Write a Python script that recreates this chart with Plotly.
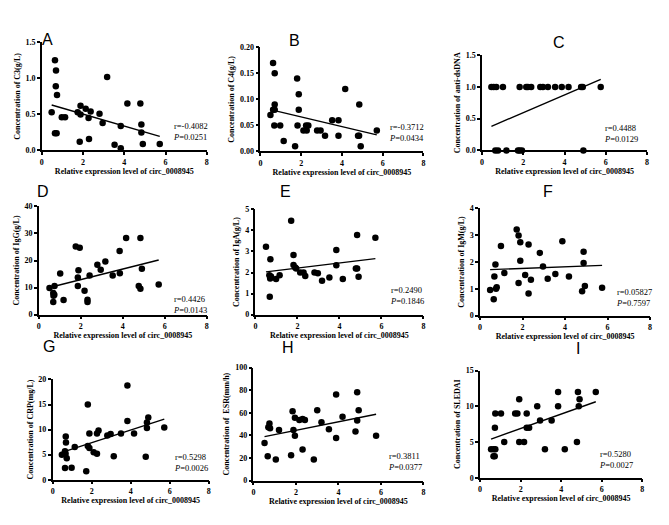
import plotly.graph_objects as go

# circ_0008945 expression (x) vs. clinical parameter (y), one pair per panel
x_a = [0.48, 0.64, 0.69, 0.68, 0.74, 0.64, 0.72, 0.97, 1.13, 1.74, 1.88, 1.88, 2.13, 2.37, 2.27,
       1.84, 2.29, 2.80, 2.95, 3.17, 3.83, 3.53, 3.83, 4.15, 4.78, 4.83, 4.83, 4.90, 5.72]
y_a = [0.53, 1.25, 1.11, 0.89, 0.77, 0.24, 0.24, 0.46, 0.46, 0.53, 0.62, 0.50, 0.58, 0.54, 0.45,
       0.12, 0.16, 0.51, 0.38, 1.02, 0.34, 0.08, 0.03, 0.65, 0.65, 0.36, 0.25, 0.09, 0.09]

x_b = [0.49, 0.62, 0.70, 0.62, 0.70, 0.70, 0.68, 0.97, 1.14, 1.70, 1.80, 1.88, 1.88, 1.82, 2.11,
       2.27, 2.24, 2.35, 2.78, 2.95, 3.17, 3.52, 3.83, 3.83, 4.16, 4.79, 4.85, 4.84, 4.92, 5.71]
y_b = [0.070, 0.170, 0.150, 0.080, 0.080, 0.090, 0.050, 0.050, 0.020, 0.010, 0.140, 0.110, 0.080,
       0.050, 0.040, 0.040, 0.050, 0.050, 0.040, 0.040, 0.030, 0.060, 0.060, 0.030, 0.120, 0.030,
       0.090, 0.030, 0.010, 0.040]

x_c = [0.45, 0.56, 0.69, 1.01, 1.82, 2.14, 2.22, 2.38, 2.82, 2.95, 3.19, 3.54, 3.86, 4.19, 4.80,
       4.88, 5.75, 0.64, 0.77, 1.18, 1.74, 1.82, 1.93, 4.91]
y_c = [1, 1, 1, 1, 1, 1, 1, 1, 1, 1, 1, 1, 1, 1, 1, 1, 1, 0, 0, 0, 0, 0, 0, 0]

x_d = [0.51, 0.75, 0.69, 0.74, 0.70, 0.69, 1.02, 1.18, 1.76, 1.95, 1.89, 1.86, 1.86, 2.18, 2.32,
       2.32, 2.42, 2.79, 2.95, 3.17, 3.52, 3.86, 3.85, 4.16, 4.84, 4.76, 4.84, 4.91, 5.71]
y_d = [9.8, 10.6, 8.0, 7.3, 7.0, 4.7, 15.2, 5.4, 25.2, 24.7, 16.4, 13.7, 10.6, 8.8, 5.5,
       4.7, 14.5, 18.4, 16.6, 19.6, 14.5, 15.3, 23.5, 28.3, 28.3, 10.6, 9.6, 17.0, 11.1]

x_e = [0.50, 0.68, 0.71, 0.66, 0.74, 0.70, 0.98, 1.15, 1.70, 1.81, 1.81, 1.89, 1.94, 2.13, 2.29,
       2.37, 2.81, 2.97, 3.17, 3.52, 3.85, 3.85, 4.16, 4.78, 4.84, 4.84, 4.91, 5.71]
y_e = [3.23, 0.85, 2.63, 1.87, 1.81, 1.72, 1.69, 1.87, 4.46, 2.83, 2.36, 2.24, 2.19, 2.00, 2.00,
       1.84, 2.00, 1.97, 1.61, 1.76, 3.07, 2.35, 1.69, 2.19, 2.19, 3.78, 1.80, 3.65]

x_f = [0.47, 0.64, 0.67, 0.72, 0.75, 0.78, 0.98, 1.14, 1.72, 1.81, 1.89, 1.89, 1.81, 2.12, 2.28,
       2.28, 2.39, 2.81, 2.96, 3.18, 3.54, 3.87, 4.18, 4.80, 4.87, 4.87, 4.93, 5.74]
y_f = [0.95, 0.61, 1.46, 1.91, 1.00, 1.06, 2.60, 1.59, 3.21, 2.99, 2.74, 2.05, 1.22, 1.51, 2.65,
       0.82, 1.34, 2.34, 1.83, 1.37, 1.55, 2.77, 1.46, 0.91, 2.38, 1.96, 1.10, 1.04]

x_g = [0.47, 0.63, 0.67, 0.68, 0.63, 0.66, 0.72, 0.97, 1.13, 1.72, 1.80, 1.80, 1.88, 1.88, 2.10,
       2.27, 2.27, 2.35, 2.80, 2.97, 3.13, 3.50, 3.83, 3.83, 4.17, 4.77, 4.83, 4.83, 4.90, 5.72]
y_g = [5.0, 2.35, 8.6, 7.4, 5.7, 5.2, 4.3, 2.4, 6.5, 1.7, 15.0, 6.7, 6.3, 9.2, 5.5,
       5.2, 9.2, 9.8, 8.8, 9.1, 4.7, 9.2, 18.8, 11.7, 9.2, 4.6, 11.4, 10.3, 12.4, 10.4]

x_h = [0.52, 0.67, 0.70, 0.75, 0.78, 1.05, 1.20, 1.77, 1.84, 1.88, 1.95, 1.95, 2.16, 2.31, 2.42,
       2.31, 2.84, 3.00, 3.20, 3.55, 3.89, 3.89, 4.19, 4.80, 4.88, 4.88, 4.95, 5.77]
y_h = [33.3, 21.7, 47.2, 50.7, 46.4, 18.8, 44.9, 22.6, 61.4, 44.9, 55.7, 39.7, 53.6, 54.5, 53.6,
       27.5, 18.8, 62.3, 51.6, 45.5, 76.2, 37.7, 56.5, 43.5, 78.3, 53.3, 62.3, 39.7]

x_i = [0.54, 0.67, 0.75, 0.66, 0.72, 0.73, 0.75, 1.03, 1.19, 1.73, 1.84, 1.93, 1.93, 2.17, 2.30,
       2.30, 2.42, 2.82, 2.96, 3.20, 3.53, 3.85, 3.85, 4.18, 4.78, 4.83, 4.87, 4.91, 5.71]
y_i = [4, 4, 4, 3, 3, 7, 9, 9, 5, 9, 9, 11, 5, 5, 9, 7, 7, 10, 8, 4, 8, 12, 10, 4, 5, 12, 10, 11, 12]

# regression lines as printed (intercept, slope)
fit_a = (0.670, -0.0830)
fit_b = (0.0848, -0.0093)
fit_c = (0.317, 0.1396)
fit_d = (9.02, 1.96)
fit_e = (1.97, 0.121)
fit_f = (1.70, 0.030)
fit_g = (4.87, 1.264)
fit_h = (37.0, 3.77)
fit_i = (4.87, 1.01)

panel_letters = ["A", "B", "C", "D", "E", "F", "G", "H", "I"]
y_titles = ["Concentration of C3(g/L)", "Concentration of C4(g/L)", "Concentration of anti-dsDNA",
            "Concentration of IgG(g/L)", "Concentration of IgA(g/L)", "Concentration of IgM(g/L)",
            "Concentration of CRP(mg/L)", "Concentration of  ESR(mm/h)", "Concentration of SLEDAI"]
y_max = [1.5, 0.20, 1.5, 40, 5, 4, 20, 100, 15]
y_step = [0.5, 0.05, 0.5, 10, 1, 1, 5, 20, 5]
y_fmt = [".1f", ".2f", ".1f", "d", "d", "d", "d", "d", "d"]
r_values = ["r=-0.4082", "r=-0.3712", "r=0.4488", "r=0.4426", "r=0.2490",
            "r=0.05827", "r=0.5298", "r=0.3811", "r=0.5280"]
p_values = ["0.0251", "0.0434", "0.0129", "0.0143", "0.1846", "0.7597", "0.0026", "0.0377", "0.0027"]
x_title = "Relative expression level of circ_0008945"

xs = [x_a, x_b, x_c, x_d, x_e, x_f, x_g, x_h, x_i]
ys = [y_a, y_b, y_c, y_d, y_e, y_f, y_g, y_h, y_i]
fits = [fit_a, fit_b, fit_c, fit_d, fit_e, fit_f, fit_g, fit_h, fit_i]

W, H = 669, 525
# plot boxes in pixels: left, right, top, bottom
boxes = [
    (40, 206, 39, 149), (260, 424, 44, 150), (483, 649, 52, 149),
    (37, 206, 206, 316), (255, 424, 209, 316), (481, 652, 208, 317),
    (51, 208, 382, 484), (253, 424, 370, 485), (481, 644, 373, 482),
]
letter_pos = [(38, 25), (294, 26), (568, 28), (33, 191), (285, 191), (556, 191),
              (39, 359), (288, 360), (583, 361)]
stat_pos = [(209, 130), (427, 131), (642, 132), (208, 306), (427, 297), (656, 299),
            (209, 467), (425, 465), (637, 463)]

SERIF = "Liberation Serif"
fig = go.Figure()
layout = dict(width=W, height=H, margin=dict(l=0, r=0, t=0, b=0),
              paper_bgcolor="white", plot_bgcolor="white", showlegend=False)
annotations = []

for k in range(9):
    n = "" if k == 0 else str(k + 1)
    xa, ya = "x" + n, "y" + n
    left, right, top, bottom = boxes[k]
    fig.add_trace(go.Scatter(
        x=xs[k], y=ys[k], mode="markers", xaxis=xa, yaxis=ya, cliponaxis=False,
        marker=dict(color="black", size=6.5),
    ))
    b0, b1 = fits[k]
    lo, hi = min(xs[k]), max(xs[k])
    fig.add_trace(go.Scatter(
        x=[lo, hi], y=[b0 + b1 * lo, b0 + b1 * hi], mode="lines", xaxis=xa, yaxis=ya,
        line=dict(color="black", width=1.4),
    ))
    axis_common = dict(
        showline=True, linecolor="black", linewidth=1.5, ticks="outside", ticklen=3,
        tickwidth=1.5, tickcolor="black", showgrid=False, zeroline=False,
        tickfont=dict(family=SERIF, size=8, color="black", weight="bold"),
    )
    layout["xaxis" + n] = dict(
        domain=[left / W, right / W], anchor=ya, range=[0, 8], dtick=2, tick0=0,
        title=dict(text=x_title, font=dict(family=SERIF, size=8, color="black", weight="bold"),
                   standoff=0),
        **axis_common,
    )
    layout["yaxis" + n] = dict(
        domain=[1 - bottom / H, 1 - top / H], anchor=xa, range=[0, y_max[k]],
        dtick=y_step[k], tick0=0, tickformat=y_fmt[k],
        title=dict(text=y_titles[k], font=dict(family=SERIF, size=8, color="black", weight="bold"),
                   standoff=4),
        **axis_common,
    )
    lx, ly = letter_pos[k]
    annotations.append(dict(
        text=panel_letters[k], x=lx / W, y=1 - ly / H, xref="paper", yref="paper",
        showarrow=False, font=dict(family="Liberation Sans", size=16, color="black"),
    ))
    sx, sy = stat_pos[k]
    annotations.append(dict(
        text=f"{r_values[k]}<br><i>P</i>={p_values[k]}", x=sx / W, y=1 - sy / H,
        xref="paper", yref="paper", xanchor="right", yanchor="middle", align="left",
        showarrow=False, font=dict(family=SERIF, size=8.5, color="black"),
    ))

layout["annotations"] = annotations
fig.update_layout(**layout)
# page margin would shift the figure by 8px
fig.write_html("out.html", config={"displayModeBar": False},
               post_script="document.body.style.margin='0px';")
